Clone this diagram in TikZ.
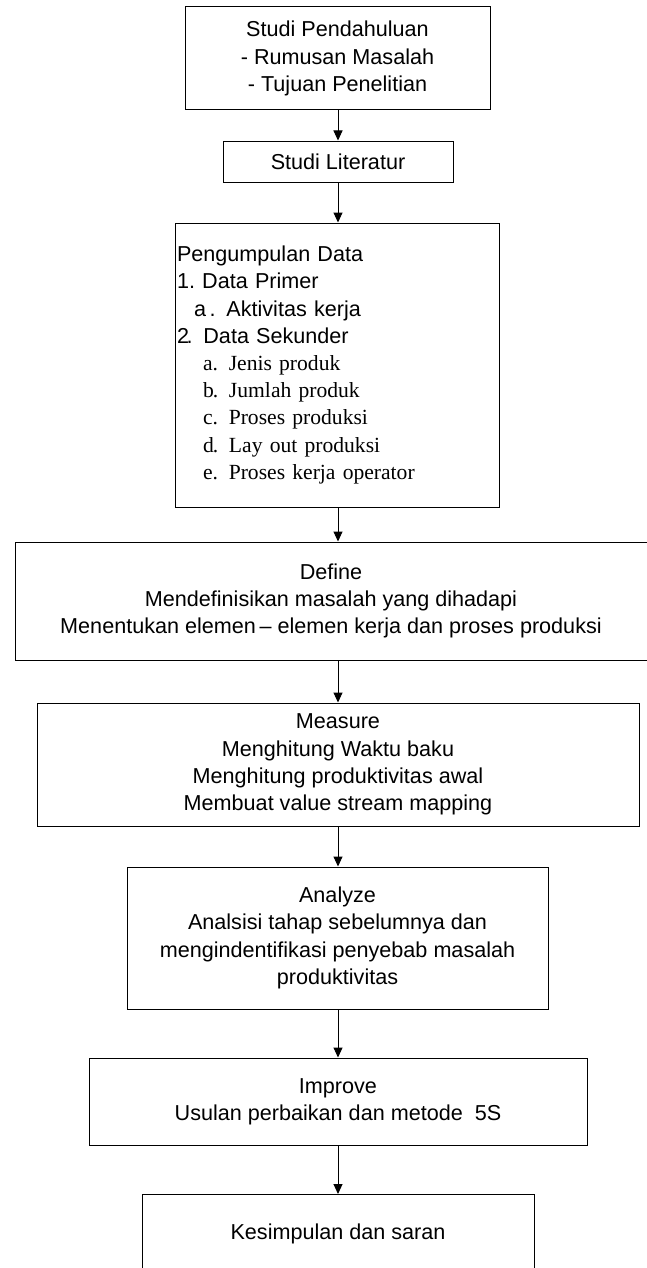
\documentclass[tikz,border=0pt]{standalone}
\usepackage{fontspec}
\setmainfont{Liberation Sans}
\newfontfamily\seriffam{Liberation Serif}
\usetikzlibrary{arrows.meta}
\begin{document}
\begin{tikzpicture}[x=0.5pt,y=-0.5pt,
  box/.style={draw=black,line width=0.5pt,inner sep=0pt,align=center,
    font=\fontsize{10.8}{13.6}\selectfont},
  arr/.style={draw=black,line width=0.5pt,-{Triangle[width=4.5pt,length=5pt]}}]
\useasboundingbox (0,0) rectangle (647,1268);
\fill[white] (0,0) rectangle (647,1268);
\coordinate (ax) at (338,0);
\node[box,minimum width=152.5pt,minimum height=51.5pt] (b1) at (337.5,58.5)
  {Studi Pendahuluan\\- Rumusan Masalah\\- Tujuan Penelitian};
\node[box,minimum width=115pt,minimum height=20.5pt] (b2) at (338,161.5)
  {Studi Literatur};
\node[box,minimum width=162pt,minimum height=142pt,align=left,text width=160pt,inner xsep=1pt] (b3) at (337,365)
  {Pengumpulan Data\\
   1.\ Data Primer\\
   \hspace*{8.5pt}a\,. Aktivitas kerja\\
   2\kern-1.2pt. Data Sekunder\\
   {\seriffam\hspace*{13pt}a. Jenis produk}\\
   {\seriffam\hspace*{13pt}b\kern-0.5pt. Jumlah produk}\\
   {\seriffam\hspace*{13pt}c. Proses produksi}\\
   {\seriffam\hspace*{13pt}d\kern-0.5pt. Lay out produksi}\\
   {\seriffam\hspace*{13pt}e. Proses kerja operator}};
\node[box,minimum width=316pt,minimum height=59pt] (b4) at (331,601)
  {Define\\Mendefinisikan masalah yang dihadapi\\Menentukan elemen\,-- elemen kerja dan proses produksi};
\node[box,minimum width=301pt,minimum height=61.5pt] (b5) at (338,764.5)
  {Measure\\Menghitung Waktu baku\\Menghitung produktivitas awal\\Membuat value stream mapping};
\node[box,minimum width=210.5pt,minimum height=71pt] (b6) at (337.5,938)
  {Analyze\\Analsisi tahap sebelumnya dan\\mengindentifikasi penyebab masalah\\produktivitas};
\node[box,minimum width=249pt,minimum height=43.5pt] (b7) at (338,1101.5)
  {Improve\\Usulan perbaikan dan metode\ \ 5S};
\node[box,minimum width=196pt,minimum height=39pt] (b8) at (338,1233.5)
  {Kesimpulan dan saran};
\draw[arr] (b1.south -| ax) -- (b2.north -| ax);
\draw[arr] (b2.south -| ax) -- (b3.north -| ax);
\draw[arr] (b3.south -| ax) -- (b4.north -| ax);
\draw[arr] (b4.south -| ax) -- (b5.north -| ax);
\draw[arr] (b5.south -| ax) -- (b6.north -| ax);
\draw[arr] (b6.south -| ax) -- (b7.north -| ax);
\draw[arr] (b7.south -| ax) -- (b8.north -| ax);
\end{tikzpicture}
\end{document}
